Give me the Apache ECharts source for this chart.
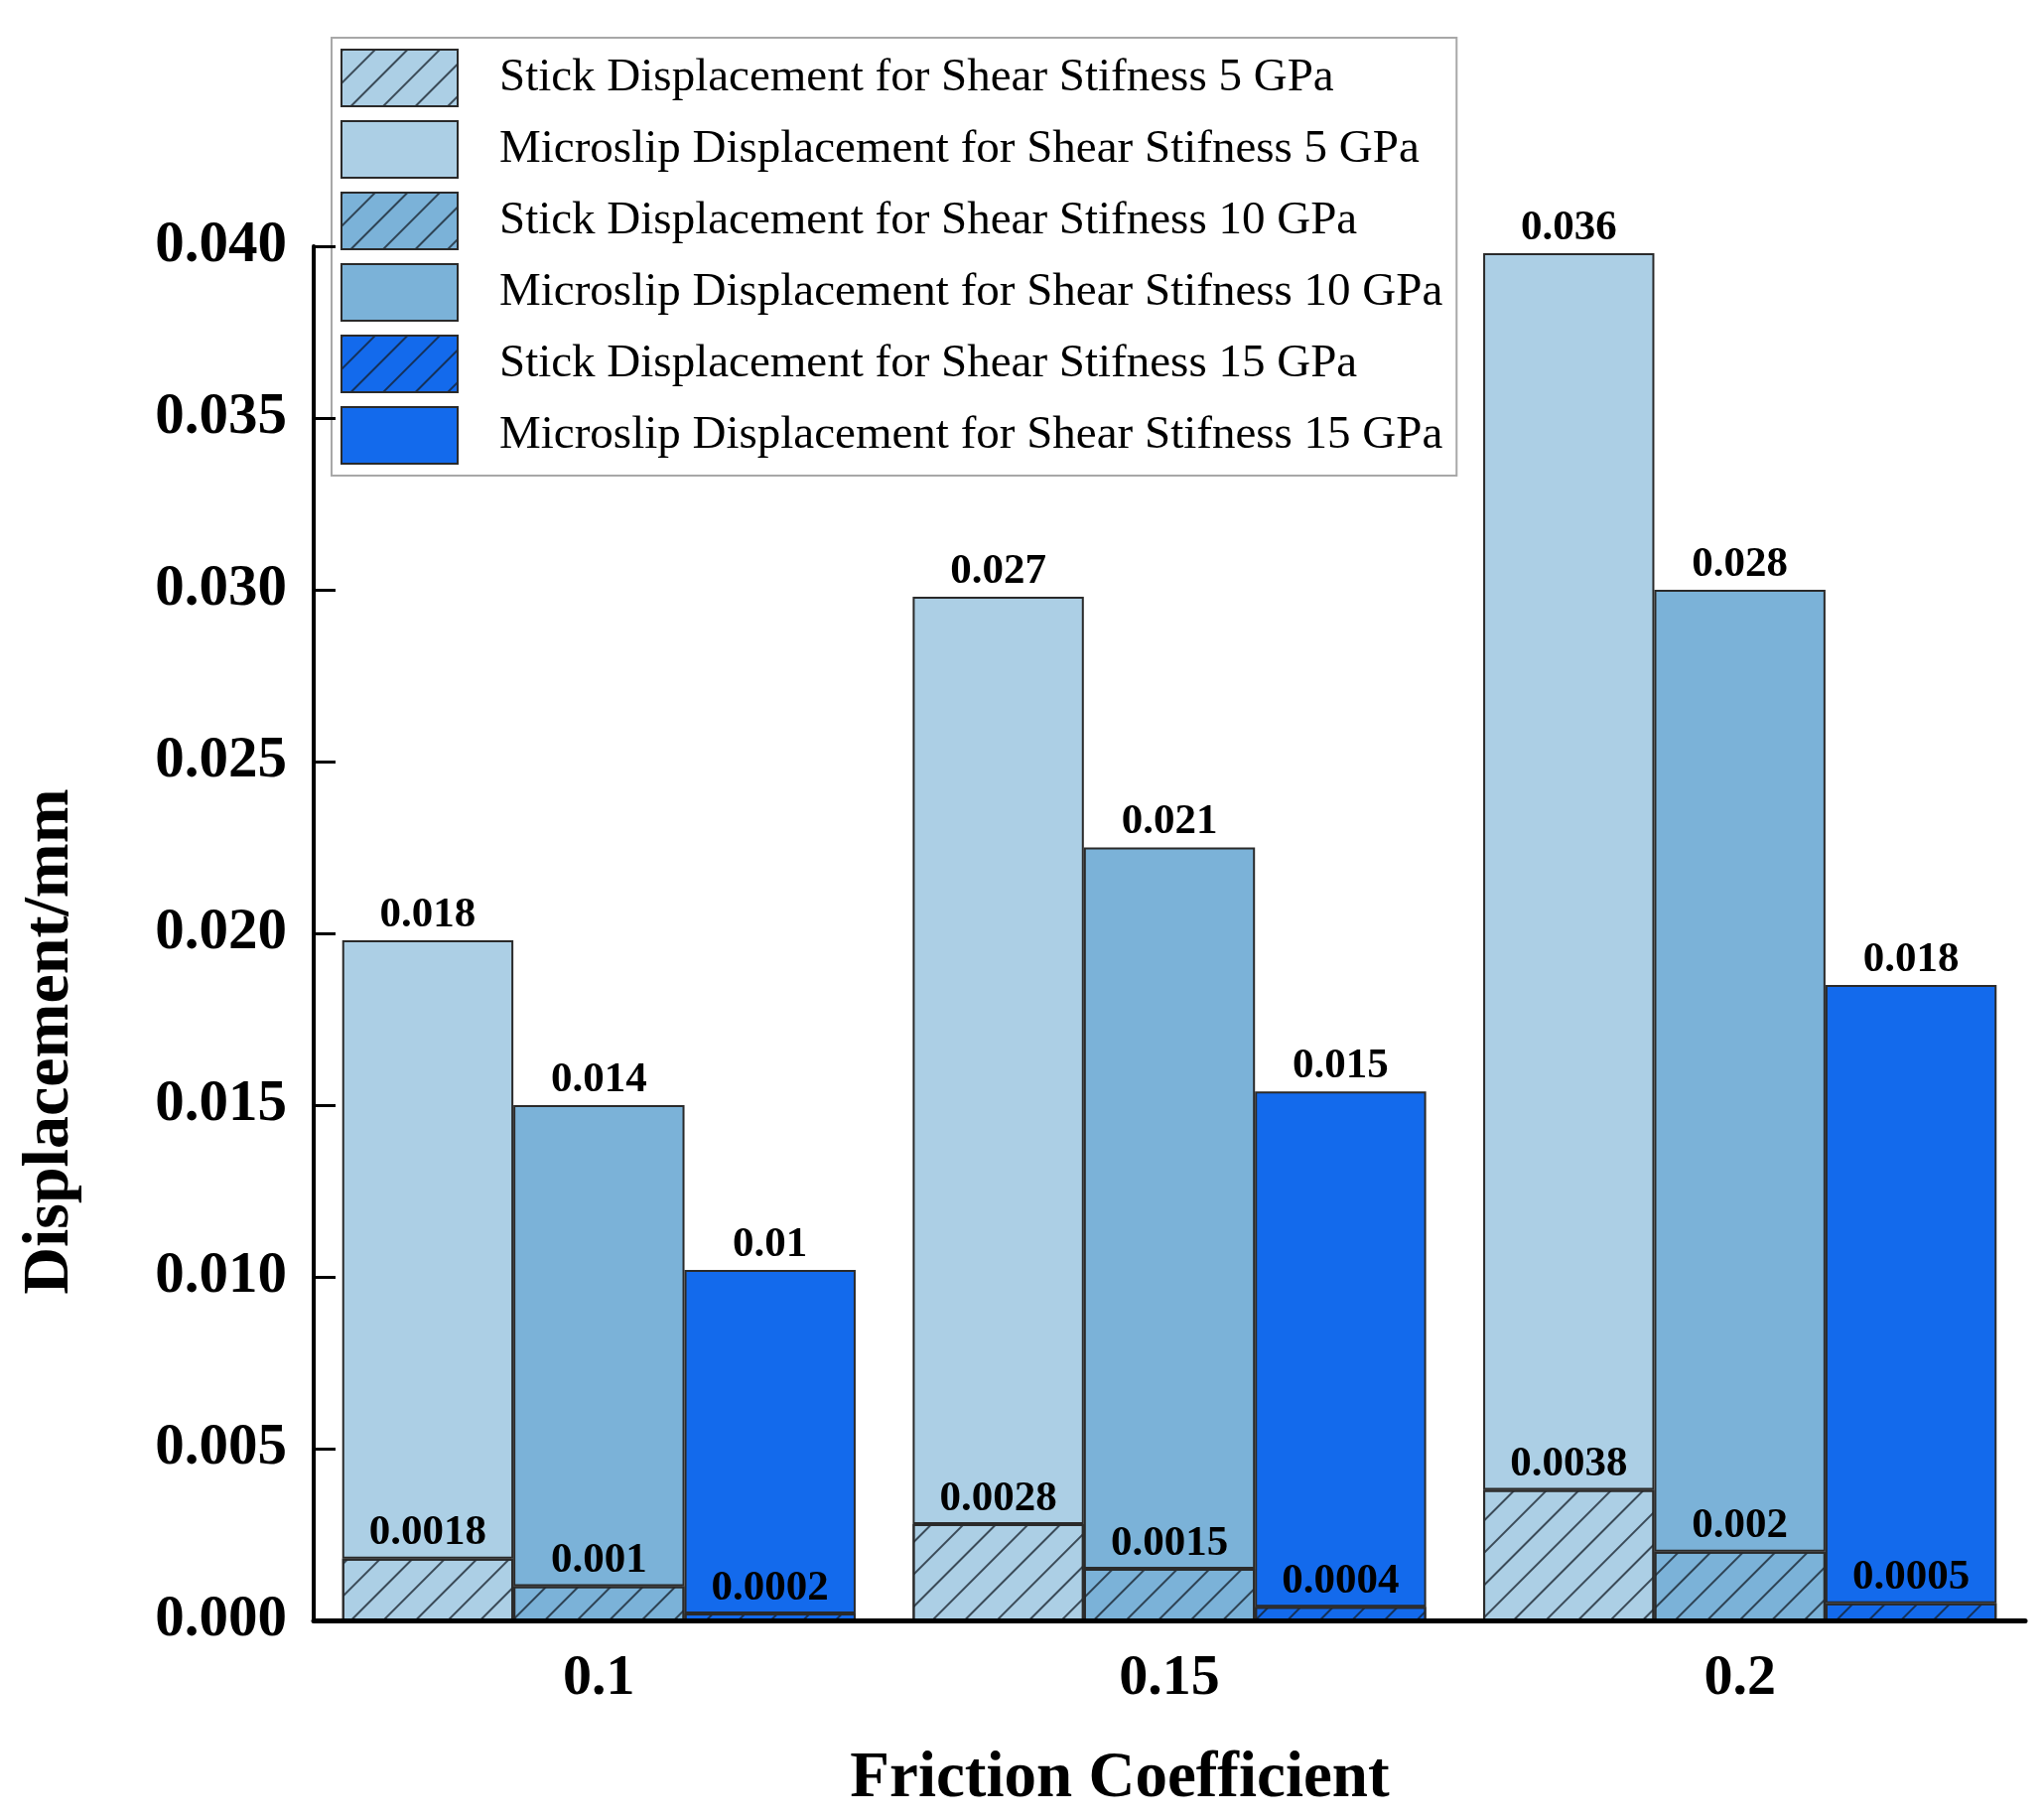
<!DOCTYPE html>
<html>
<head>
<meta charset="utf-8">
<script src="https://cdn.jsdelivr.net/npm/echarts@6/dist/echarts.min.js"></script>
<style>html,body{margin:0;padding:0;background:#fff}#c{width:2059px;height:1833px}</style>
</head>
<body>
<div id="c"></div>
<script>
const categories = ['0.1', '0.15', '0.2'];
const stick5 = [0.0018, 0.0028, 0.0038];
const micro5 = [0.018, 0.027, 0.036];
const stick10 = [0.001, 0.0015, 0.002];
const micro10 = [0.014, 0.021, 0.028];
const stick15 = [0.0002, 0.0004, 0.0005];
const micro15 = [0.01, 0.015, 0.018];
const seriesNames = [
  'Stick Displacement for Shear Stifness 5 GPa',
  'Microslip Displacement for Shear Stifness 5 GPa',
  'Stick Displacement for Shear Stifness 10 GPa',
  'Microslip Displacement for Shear Stifness 10 GPa',
  'Stick Displacement for Shear Stifness 15 GPa',
  'Microslip Displacement for Shear Stifness 15 GPa'
];
const colors = ['#accfe5', '#7bb2d8', '#136aec'];
const FONT = 'Liberation Serif';

const hatch = {
  symbol: 'rect',
  symbolSize: 1,
  dashArrayX: [1, 0],
  dashArrayY: [2, 21],
  rotation: -Math.PI / 4,
  color: 'rgba(20,30,40,0.75)'
};

function mk(name, data, color, stack, hatched) {
  const s = {
    name: name,
    type: 'bar',
    stack: stack,
    data: data,
    barGap: '0%',
    barCategoryGap: '10%',
    itemStyle: { color: color, borderColor: '#2a2a2a', borderWidth: 2 },
    label: {
      show: true,
      position: 'top',
      distance: 4,
      fontFamily: FONT,
      fontWeight: 'bold',
      fontSize: 43,
      color: '#000'
    }
  };
  if (hatched) s.itemStyle.decal = hatch;
  return s;
}

const chart = echarts.init(document.getElementById('c'));
chart.setOption({
  backgroundColor: '#fff',
  animation: false,
  grid: { left: 316, right: 19, top: 248, bottom: 201, containLabel: false },
  legend: {
    orient: 'vertical',
    left: 334,
    top: 38,
    padding: [11, 14, 11, 9],
    icon: 'rect',
    itemWidth: 117,
    itemHeight: 57,
    itemGap: 13,
    backgroundColor: '#fff',
    borderColor: '#a8a8a8',
    borderWidth: 2,
    textStyle: { fontFamily: FONT, fontSize: 47, color: '#000', padding: [10, 0, 0, 37] },
    data: seriesNames
  },
  xAxis: {
    type: 'category',
    data: categories,
    z: 10,
    axisLine: { lineStyle: { color: '#000', width: 5 } },
    axisTick: { inside: true, alignWithLabel: true, length: 22, lineStyle: { color: '#000', width: 3 } },
    axisLabel: { fontFamily: FONT, fontWeight: 'bold', fontSize: 58, color: '#000', margin: 30 },
    name: 'Friction Coefficient',
    nameLocation: 'middle',
    nameGap: 128,
    nameTextStyle: { fontFamily: FONT, fontWeight: 'bold', fontSize: 65, color: '#000', padding: [0, 100, 0, 0] }
  },
  yAxis: {
    type: 'value',
    min: 0,
    max: 0.04,
    interval: 0.005,
    z: 10,
    splitLine: { show: false },
    axisLine: { show: true, lineStyle: { color: '#000', width: 4 } },
    axisTick: { show: true, inside: true, length: 22, lineStyle: { color: '#000', width: 3 } },
    axisLabel: { fontFamily: FONT, fontWeight: 'bold', fontSize: 59, color: '#000', margin: 27,
      formatter: v => v.toFixed(3) },
    name: 'Displacement/mm',
    nameLocation: 'middle',
    nameGap: 232,
    nameRotate: 90,
    nameTextStyle: { fontFamily: FONT, fontWeight: 'bold', fontSize: 66, color: '#000', padding: [0, 218, 0, 0] }
  },
  series: [
    mk(seriesNames[0], stick5, colors[0], 's5', true),
    mk(seriesNames[1], micro5, colors[0], 's5', false),
    mk(seriesNames[2], stick10, colors[1], 's10', true),
    mk(seriesNames[3], micro10, colors[1], 's10', false),
    mk(seriesNames[4], stick15, colors[2], 's15', true),
    mk(seriesNames[5], micro15, colors[2], 's15', false)
  ]
});
</script>
</body>
</html>
